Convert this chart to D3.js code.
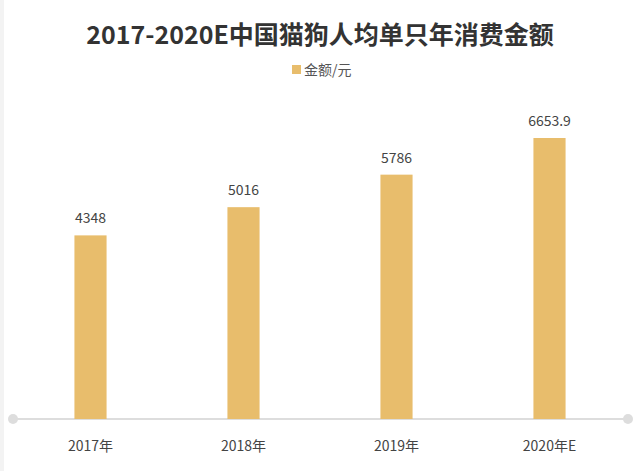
<!DOCTYPE html>
<html><head><meta charset="utf-8">
<script src="https://cdn.jsdelivr.net/npm/d3@7/dist/d3.min.js"></script>
<style>body{margin:0;background:#fff;}svg{display:block;font-family:"Noto Sans CJK SC","Noto Sans",sans-serif;}</style>
</head><body>
<svg id="c" width="641" height="471"></svg>
<script>
const categories = ["2017年","2018年","2019年","2020年E"];
const values = [4348, 5016, 5786, 6653.9];
const valueLabels = ["4348","5016","5786","6653.9"];
const seriesName = "金额/元";
const title = "2017-2020E中国猫狗人均单只年消费金额";

const svg = d3.select("#c");
const W = 641, H = 471;
// faint left border shade
svg.append("rect").attr("x",0).attr("y",0).attr("width",4).attr("height",H).attr("fill","#f3f3f3");

const x = d3.scaleBand().domain(categories).range([14, 626]).paddingInner(0.79).paddingOuter(0.395);
const y = d3.scaleLinear().domain([0, 6653.9]).range([419, 138]);

svg.append("text").attr("x",320).attr("y",44).attr("text-anchor","middle")
  .attr("font-size",25).attr("font-weight","bold").attr("fill","#333").text(title);

// legend
svg.append("rect").attr("x",292).attr("y",65).attr("width",9).attr("height",9).attr("fill","#E8BD6C");
svg.append("text").attr("x",304).attr("y",75).attr("font-size",14).attr("fill","#555").text(seriesName);

// axis line
svg.append("line").attr("x1",13).attr("x2",628).attr("y1",419).attr("y2",419).attr("stroke","#ddd").attr("stroke-width",2);
svg.append("circle").attr("cx",13).attr("cy",419).attr("r",5).attr("fill","#ddd");
svg.append("circle").attr("cx",628).attr("cy",419).attr("r",5).attr("fill","#ddd");

svg.selectAll("rect.bar").data(values).join("rect").attr("class","bar")
  .attr("x",(d,i)=>x(categories[i])).attr("width",x.bandwidth())
  .attr("y",d=>y(d)).attr("height",d=>y(0)-y(d)).attr("fill","#E8BD6C");

svg.selectAll("text.val").data(values).join("text").attr("class","val")
  .attr("x",(d,i)=>x(categories[i])+x.bandwidth()/2).attr("y",d=>y(d)-12)
  .attr("text-anchor","middle").attr("font-size",14).attr("fill","#444").text((d,i)=>valueLabels[i]);

svg.selectAll("text.cat").data(categories).join("text").attr("class","cat")
  .attr("x",d=>x(d)+x.bandwidth()/2).attr("y",451)
  .attr("text-anchor","middle").attr("font-size",14).attr("fill","#444").text(d=>d);
</script>
</body></html>
